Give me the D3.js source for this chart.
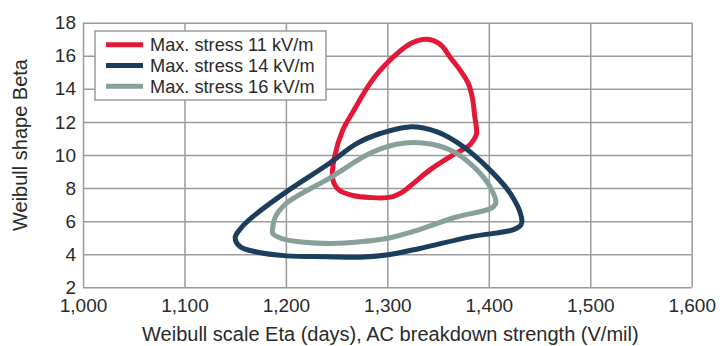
<!DOCTYPE html>
<html>
<head>
<meta charset="utf-8">
<script src="https://cdn.jsdelivr.net/npm/d3@7"></script>
<style>
  body { margin: 0; background: #fff; }
  text { font-family: "Liberation Sans", Arial, sans-serif; fill: #2a2a2a; }
</style>
</head>
<body>
<div id="chart"></div>
<script>
// Data - closed contours, [eta, beta]
const xTicks = [1000, 1100, 1200, 1300, 1400, 1500, 1600];
const yTicks = [2, 4, 6, 8, 10, 12, 14, 16, 18];

const seriesNames = ["Max. stress 11 kV/m", "Max. stress 14 kV/m", "Max. stress 16 kV/m"];
const seriesColors = ["#e31837", "#1b3e5c", "#87a09a"];

const stress11 = [
  [1246, 8.6], [1248, 9.9], [1256, 11.5], [1266, 12.6], [1286, 14.6], [1309, 16.1],
  [1325, 16.8], [1339, 17.0], [1352, 16.7], [1362, 15.9], [1372, 15.1], [1380, 14.3],
  [1384, 13.4], [1386, 12.4], [1388, 11.3], [1386, 11.0], [1381, 10.6], [1362, 9.9],
  [1342, 9.1], [1326, 8.3], [1316, 7.8], [1303, 7.45], [1283, 7.43], [1266, 7.55],
  [1252, 7.9]
];

const stress14 = [
  [1150, 5.0], [1156, 5.6], [1168, 6.3], [1201, 7.8], [1243, 9.5], [1270, 10.7],
  [1293, 11.3], [1322, 11.7], [1349, 11.4], [1375, 10.5], [1401, 9.1], [1421, 7.7],
  [1432, 6.3], [1432, 5.8], [1425, 5.5], [1382, 5.05], [1332, 4.35], [1299, 3.95],
  [1273, 3.82], [1240, 3.85], [1201, 3.9], [1170, 4.15], [1155, 4.45]
];

const stress16 = [
  [1187, 5.6], [1190, 6.3], [1201, 7.1], [1243, 8.6], [1283, 10.1], [1309, 10.65],
  [1335, 10.72], [1362, 10.3], [1385, 9.3], [1401, 8.1], [1407, 7.1], [1403, 6.8],
  [1368, 6.25], [1332, 5.5], [1299, 4.95], [1273, 4.75], [1246, 4.65], [1218, 4.72],
  [1196, 4.95], [1187, 5.25]
];

const allSeries = [stress11, stress14, stress16];

const W = 720, H = 346;
const margin = {top: 22.7, right: 28.3, bottom: 58.7, left: 83};
const width = W - margin.left - margin.right,
  height = H - margin.top - margin.bottom;

const svg = d3.select("#chart").append("svg")
  .attr("width", W)
  .attr("height", H);

const g = svg.append("g").attr("transform", "translate(" + margin.left + "," + margin.top + ")");

const x = d3.scaleLinear().domain([1000, 1600]).range([0, width]);
const y = d3.scaleLinear().domain([2, 18]).range([height, 0]);

// x axis + vertical grid
const gx = g.append("g")
  .attr("transform", "translate(0," + height + ")")
  .call(d3.axisBottom(x).tickValues(xTicks).tickSize(-height).tickPadding(11).tickFormat(d3.format(",")));

// y axis + horizontal grid
const gy = g.append("g")
  .call(d3.axisLeft(y).tickValues(yTicks).tickSize(-width).tickPadding(7));

[gx, gy].forEach(a => {
  a.select(".domain").remove();
  a.selectAll("line").attr("stroke", "#9b9b9b").attr("stroke-width", 1.5);
  a.selectAll("text").style("font-size", "19px").attr("fill", "#2a2a2a");
});

// contours - red at the bottom, then grey, then navy
const line = d3.line()
  .x(d => x(d[0]))
  .y(d => y(d[1]))
  .curve(d3.curveCatmullRomClosed.alpha(0.5));

[0, 2, 1].forEach(i => {
  g.append("path")
    .datum(allSeries[i])
    .attr("d", line)
    .attr("fill", "none")
    .attr("stroke", seriesColors[i])
    .attr("stroke-width", 5)
    .attr("stroke-linejoin", "round");
});

// legend
const legend = svg.append("g").attr("transform", "translate(95,31)");
legend.append("rect")
  .attr("width", 231)
  .attr("height", 69)
  .attr("fill", "#fff")
  .attr("stroke", "#9b9b9b")
  .attr("stroke-width", 1.5);

const item = legend.selectAll(".item")
  .data(seriesNames)
  .enter().append("g")
  .attr("class", "item")
  .attr("transform", (d, i) => "translate(0," + (13.7 + i * 20.8) + ")");

item.append("line")
  .attr("x1", 11).attr("x2", 48)
  .attr("stroke", (d, i) => seriesColors[i])
  .attr("stroke-width", 5);

item.append("text")
  .attr("x", 55)
  .attr("dy", "0.35em")
  .style("font-size", "18.2px")
  .text(d => d);

// axis titles
svg.append("text")
  .attr("x", margin.left + width / 2 + 3)
  .attr("y", 341)
  .attr("text-anchor", "middle")
  .style("font-size", "20px")
  .text("Weibull scale Eta (days), AC breakdown strength (V/mil)");

svg.append("text")
  .attr("transform", "translate(27," + (margin.top + height / 2 - 10) + ") rotate(-90)")
  .attr("text-anchor", "middle")
  .style("font-size", "20px")
  .text("Weibull shape Beta");
</script>
</body>
</html>
